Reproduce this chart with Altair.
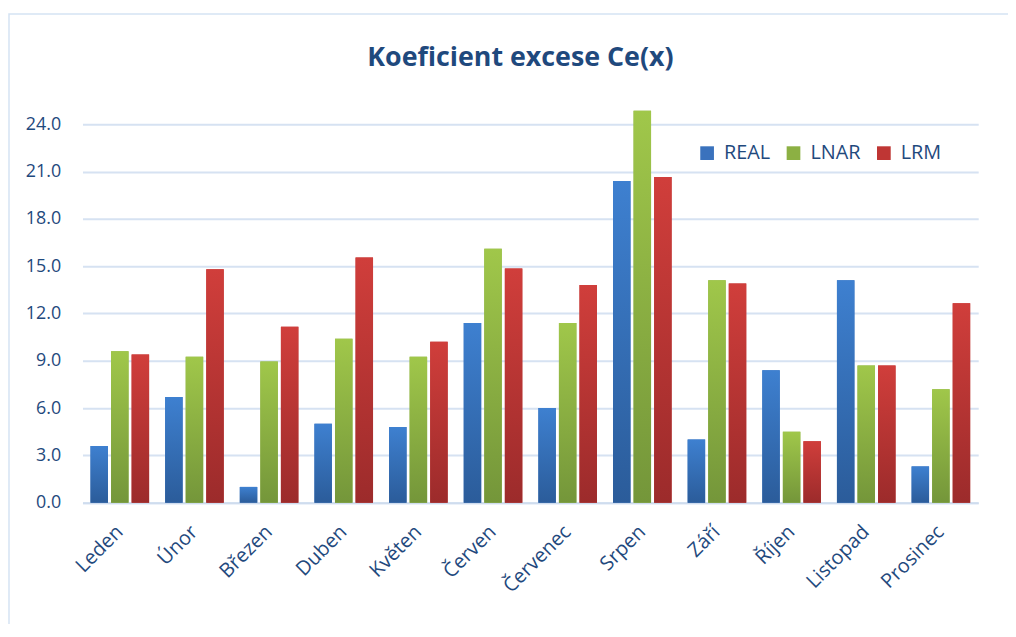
import altair as alt
import pandas as pd

months = ["Leden", "Únor", "Březen", "Duben", "Květen", "Červen",
          "Červenec", "Srpen", "Září", "Říjen", "Listopad", "Prosinec"]
series = ["REAL", "LNAR", "LRM"]
real = [3.6, 6.7, 1.0, 5.0, 4.8, 11.4, 6.0, 20.4, 4.0, 8.4, 14.1, 2.3]
lnar = [9.6, 9.25, 8.95, 10.4, 9.25, 16.1, 11.4, 24.85, 14.1, 4.5, 8.7, 7.2]
lrm = [9.4, 14.8, 11.15, 15.55, 10.2, 14.85, 13.8, 20.65, 13.9, 3.9, 8.7, 12.65]
y_ticks = [0, 3, 6, 9, 12, 15, 18, 21, 24]

flat_colors = ["#3a72bd", "#8cb043", "#bf3634"]
grad_colors = {
    "REAL": ("#3e80d0", "#2b5c9a"),
    "LNAR": ("#a0c74a", "#74963a"),
    "LRM": ("#d03e3b", "#9c2b2b"),
}

rows = []
for i, m in enumerate(months):
    for s, vals in zip(series, [real, lnar, lrm]):
        rows.append({"month": m, "series": s, "value": vals[i]})
df = pd.DataFrame(rows)

text_color = "#1f497d"
font = "Open Sans"

x_enc = alt.X("month:N", sort=months,
              scale=alt.Scale(paddingInner=0.215, paddingOuter=0.1075),
              axis=alt.Axis(title=None, labelAngle=-45, labelAlign="right",
                            labelBaseline="middle", labelFontSize=20,
                            labelColor=text_color, labelFont=font,
                            labelPadding=26, ticks=False, domainColor="#cfdcee",
                            domainWidth=2, grid=False))
xo_enc = alt.XOffset("series:N", sort=series,
                     scale=alt.Scale(domain=series, paddingInner=0.15, paddingOuter=0))
y_enc = alt.Y("value:Q",
              scale=alt.Scale(domain=[0, 25], nice=False),
              axis=alt.Axis(title=None, values=y_ticks, format=".1f",
                            labelFontSize=18, labelColor=text_color, labelFont=font,
                            labelPadding=22, ticks=False, domain=False,
                            gridColor="#d6e2f2", gridWidth=2))

base = alt.Chart(df)

flat = base.mark_bar().encode(
    x=x_enc, xOffset=xo_enc, y=y_enc,
    color=alt.Color("series:N", sort=series,
                    scale=alt.Scale(domain=series, range=flat_colors),
                    legend=alt.Legend(title=None, orient="none", direction="horizontal",
                                      legendX=619, legendY=35, symbolType="square",
                                      symbolSize=190, labelFontSize=20,
                                      labelColor=text_color, labelFont=font,
                                      columnPadding=13, labelOffset=7, padding=0,
                                      symbolStrokeWidth=0)),
)

grad_layers = []
for s in series:
    top, bottom = grad_colors[s]
    grad = alt.LinearGradient(
        gradient="linear",
        stops=[alt.GradientStop(color=top, offset=0),
               alt.GradientStop(color=bottom, offset=1)],
        x1=0, x2=0, y1=0, y2=1,
    )
    grad_layers.append(
        base.transform_filter(alt.datum.series == s)
        .mark_bar(color=grad)
        .encode(x=x_enc, xOffset=xo_enc, y=y_enc)
    )

border = alt.Chart(pd.DataFrame({"a": [0]})).mark_rect(
    fill=None, stroke="#d5e3f3", strokeWidth=1.5, clip=False
).encode(x=alt.value(-74), x2=alt.value(940), y=alt.value(-95), y2=alt.value(540))

chart = alt.layer(border, flat, *grad_layers).properties(
    width=902, height=397,
    autosize=alt.AutoSizeParams(type="none"),
    padding={"left": 75, "top": 99, "right": 30, "bottom": 120},
    title=alt.Title("Koeficient excese Ce(x)", fontSize=27, font=font,
                    fontWeight="bold", color=text_color, offset=-59,
                    anchor="middle", dx=-10),
).configure_view(stroke=None)

chart.save("out.html", embed_options={"renderer": "svg", "actions": False})
